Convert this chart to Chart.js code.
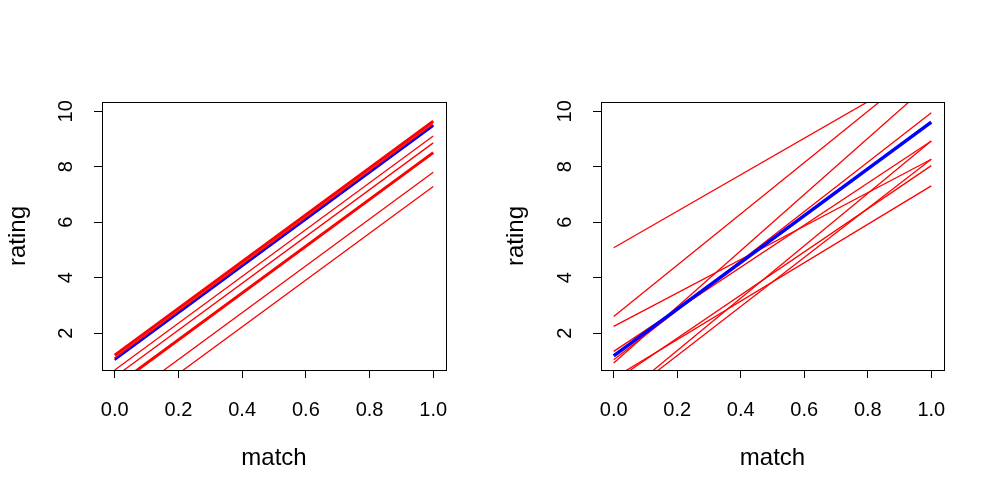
<!DOCTYPE html>
<html>
<head>
<meta charset="utf-8">
<script src="https://cdn.jsdelivr.net/npm/chart.js@4.4.0/dist/chart.umd.min.js"></script>
<style>
  html, body { margin: 0; padding: 0; background: #fff; }
  #wrap { position: relative; width: 997px; height: 498px; }
  .panel { position: absolute; top: 0; height: 498px; }
  #left { left: 0; width: 498px; }
  #right { left: 498px; width: 499px; }
</style>
</head>
<body>
<div id="wrap">
  <div class="panel" id="left"><canvas id="chart-left"></canvas></div>
  <div class="panel" id="right"><canvas id="chart-right"></canvas></div>
</div>
<script>
// axis ticks
const xTicks = [0, 0.2, 0.4, 0.6, 0.8, 1.0];
const yTicks = [2, 4, 6, 8, 10];
const matchEnds = [0, 1];

// left panel: rating at match = 0 and match = 1 for each group
const leftRedStart = [1.20, 1.07, 0.67, 0.42, 0.07, -0.64, -1.15];
const leftRedEnd   = [9.64, 9.51, 9.11, 8.86, 8.51, 7.80, 7.29];
const leftMean     = [1.03, 9.47];
const leftBold     = [0, 1, 4];

// right panel
const rightRedStart = [5.08, 2.60, 2.24, 1.34, 1.04, 0.92, 0.38, 0.26, -0.52, -0.58];
const rightRedEnd   = [11.66, 11.85, 8.27, 8.93, 9.95, 11.05, 7.31, 8.04, 8.93, 8.27];
const rightMean     = [1.18, 9.61];

const FONT = '"Liberation Sans", Arial, sans-serif';

function segment(a, b) {
    return matchEnds.map((x, i) => ({ x: x, y: i === 0 ? a : b }));
}

function lineSet(a, b, color, width) {
    return {
        data: segment(a, b),
        borderColor: color,
        borderWidth: width,
        pointRadius: 0,
        fill: false,
        tension: 0,
        clip: 0
    };
}

// R style box round the plot region
const boxPlugin = {
    id: 'box',
    afterDraw(chart) {
        const { ctx, chartArea: a } = chart;
        ctx.save();
        ctx.strokeStyle = '#000';
        ctx.lineWidth = 1;
        ctx.strokeRect(Math.round(a.left) + 0.5, Math.round(a.top) + 0.5,
            Math.round(a.right - a.left), Math.round(a.bottom - a.top));
        ctx.restore();
    }
};

function makeChart(id, datasets, yWidth, padRight) {
    const ctx = document.getElementById(id).getContext('2d');
    return new Chart(ctx, {
        type: 'line',
        data: { datasets: datasets },
        options: {
            responsive: true,
            maintainAspectRatio: false,
            animation: false,
            layout: { padding: { top: 102, right: padRight, left: 0, bottom: 0 } },
            plugins: { legend: { display: false }, tooltip: { enabled: false } },
            scales: {
                x: {
                    type: 'linear',
                    min: -0.04,
                    max: 1.04,
                    afterBuildTicks: s => { s.ticks = xTicks.map(v => ({ value: v })); },
                    afterFit: s => { s.height = 128; },
                    border: { display: false },
                    grid: { drawOnChartArea: false, drawTicks: true, tickLength: 8, color: '#000' },
                    ticks: {
                        color: '#000',
                        font: { family: FONT, size: 20 },
                        padding: 20,
                        maxRotation: 0,
                        callback: v => v.toFixed(1)
                    },
                    title: {
                        display: true,
                        text: 'match',
                        color: '#000',
                        font: { family: FONT, size: 24 },
                        padding: { top: 0, bottom: 25 }
                    }
                },
                y: {
                    type: 'linear',
                    min: 0.669,
                    max: 10.335,
                    afterBuildTicks: s => { s.ticks = yTicks.map(v => ({ value: v })); },
                    afterFit: s => { s.width = yWidth; },
                    border: { display: false },
                    grid: { drawOnChartArea: false, drawTicks: true, tickLength: 8, color: '#000' },
                    ticks: {
                        color: '#000',
                        font: { family: FONT, size: 20 },
                        padding: 16,
                        minRotation: 90,
                        maxRotation: 90,
                        crossAlign: 'center',
                        callback: v => String(v)
                    },
                    title: {
                        display: true,
                        text: 'rating',
                        color: '#000',
                        font: { family: FONT, size: 24 },
                        padding: { top: 4, bottom: 0 }
                    }
                }
            }
        },
        plugins: [boxPlugin]
    });
}

// first dataset is drawn on top, so the mean line goes first
const leftSets = [lineSet(leftMean[0], leftMean[1], '#0000ff', 2)];
leftRedStart.forEach((a, i) => {
    leftSets.push(lineSet(a, leftRedEnd[i], '#ff0000', leftBold.includes(i) ? 3 : 1.3));
});

const rightSets = [lineSet(rightMean[0], rightMean[1], '#0000ff', 3.5)];
rightRedStart.forEach((a, i) => {
    rightSets.push(lineSet(a, rightRedEnd[i], '#ff0000', 1.3));
});

makeChart('chart-left', leftSets, 102, 52);
makeChart('chart-right', rightSets, 103, 53);
</script>
</body>
</html>
